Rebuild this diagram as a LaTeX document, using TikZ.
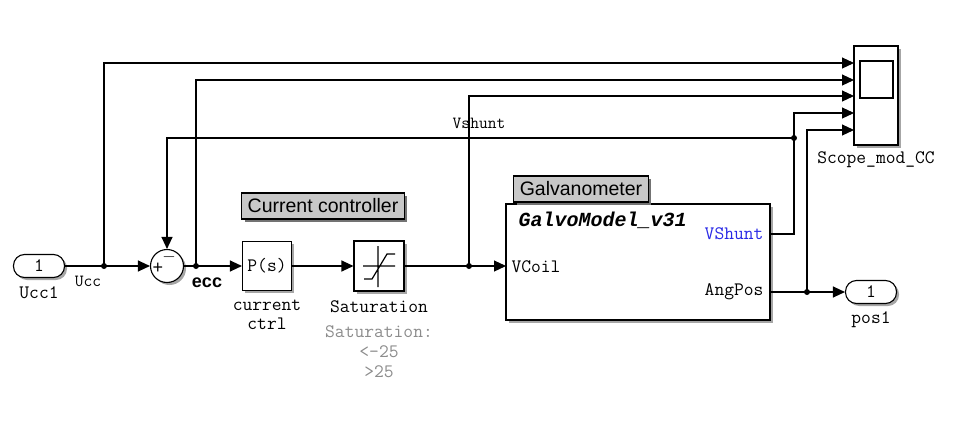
\documentclass[tikz,border=0pt]{standalone}
\usepackage{fontspec}
\setmainfont{Liberation Sans}
\setsansfont{Liberation Sans}
\newfontfamily\galvofont{Liberation Mono}
\usetikzlibrary{arrows.meta,shadows}
\definecolor{portblue}{RGB}{40,40,230}
\definecolor{notegray}{RGB}{200,200,200}
\begin{document}
\begin{tikzpicture}[x=1pt,y=-1pt,line width=1.1pt,
    every node/.style={font=\ttfamily\fontsize{19}{19}\selectfont,inner sep=0pt},
    block/.style={draw,fill=white,drop shadow={shadow xshift=2.5pt,shadow yshift=-2.5pt,fill=black!35,opacity=1}},
    port/.style={block,rounded corners=11pt,minimum width=51pt,minimum height=23pt},
    note/.style={draw,fill=notegray,font=\sffamily\fontsize{19.5}{22}\selectfont,minimum height=26pt,inner xsep=6pt,
        drop shadow={shadow xshift=3pt,shadow yshift=-3pt,fill=black!55,opacity=1}},
    wire/.style={-{Triangle[length=12pt,width=11pt]}},
    dot/.style={circle,fill,minimum size=6pt},
    small/.style={font=\ttfamily\fontsize{17}{17}\selectfont}]
    \useasboundingbox (0,0) rectangle (953,431);

    \node[port] at (39,266) (ucc1) {1};
    \node[block,circle,minimum size=33pt] at (167,266) (sum) {};
    \node[font=\sffamily\fontsize{18}{18}\selectfont] at (158,268) (plus) {+};
    \node[font=\sffamily\fontsize{18}{18}\selectfont] at (169,257) (minus) {$-$};
    \node[block,minimum width=49pt,minimum height=49pt] at (267,266) (pctrl) {P(s)};
    \node[block,minimum width=50pt,minimum height=50pt] at (379,266) (sat) {};
    \node[block,minimum width=264pt,minimum height=116pt] at (638,262) (galvo) {};
    \node[block,minimum width=44pt,minimum height=99pt] at (876,95.5) (scope) {};
    \node[draw,minimum width=33pt,minimum height=37pt] at (876.5,79.5) (screen) {};
    \node[port] at (871,292) (pos1) {1};

    \node[note] at (323,206) (ccnote) {Current controller};
    \node[note] at (581,189) (gnote) {Galvanometer};

    \draw[line width=1.2pt] (363,266) -- (395,266) (378,246) -- (378,287)
        (364,279) -- (372,279) -- (387,254) -- (395,254);

    \node[anchor=west,font=\galvofont\bfseries\itshape\fontsize{20}{22}\selectfont] at (518,220) (gname) {GalvoModel\_v31};
    \node[anchor=west] at (511,267) (vcoil) {VCoil};
    \node[anchor=east,text=portblue] at (764,234) (vshunt) {VShunt};
    \node[anchor=east] at (764,292) (angpos) {AngPos};

    \node at (39,293) (ucc1lbl) {Ucc1};
    \node[small] at (88,281) (ucclbl) {Ucc};
    \node[font=\sffamily\bfseries\fontsize{18}{18}\selectfont] at (207,283) (ecclbl) {ecc};
    \node at (267,305) (pctrllbl) {current};
    \node at (267,324) (pctrllbl2) {ctrl};
    \node at (379,307) (satlbl) {Saturation};
    \node[align=center,text=black!45,font=\ttfamily\fontsize{19}{20}\selectfont] at (379,352) (satpar) {Saturation:\\<-25\\>25};
    \node[small] at (479,123) (vshlbl) {Vshunt};
    \node at (876,160) (scopelbl) {Scope\_mod\_CC};
    \node at (871,320) (pos1lbl) {pos1};

    \coordinate (s1) at (854,63);
    \coordinate (s2) at (854,80);
    \coordinate (s3) at (854,96);
    \coordinate (s4) at (854,113);
    \coordinate (s5) at (854,130);
    \coordinate (vcin) at (506,266);
    \coordinate (vsout) at (770,234);
    \coordinate (apout) at (770,292);

    \node[dot] at (104,266) (j1) {};
    \node[dot] at (196,266) (j2) {};
    \node[dot] at (469,266) (j3) {};
    \node[dot] at (794,138) (j4) {};
    \node[dot] at (807,292) (j5) {};

    \draw[wire] (ucc1) -- (sum);
    \draw[wire] (sum) -- (pctrl);
    \draw[wire] (pctrl) -- (sat);
    \draw[wire] (sat) -- (vcin);
    \draw[wire] (apout) -- (pos1);
    \draw[wire] (j1.center) |- (s1);
    \draw[wire] (j2.center) |- (s2);
    \draw[wire] (j3.center) |- (s3);
    \draw[wire] (vsout) -| (j4.center) |- (s4);
    \draw[wire] (j4.center) -| (sum);
    \draw[wire] (j5.center) |- (s5);
\end{tikzpicture}
\end{document}
